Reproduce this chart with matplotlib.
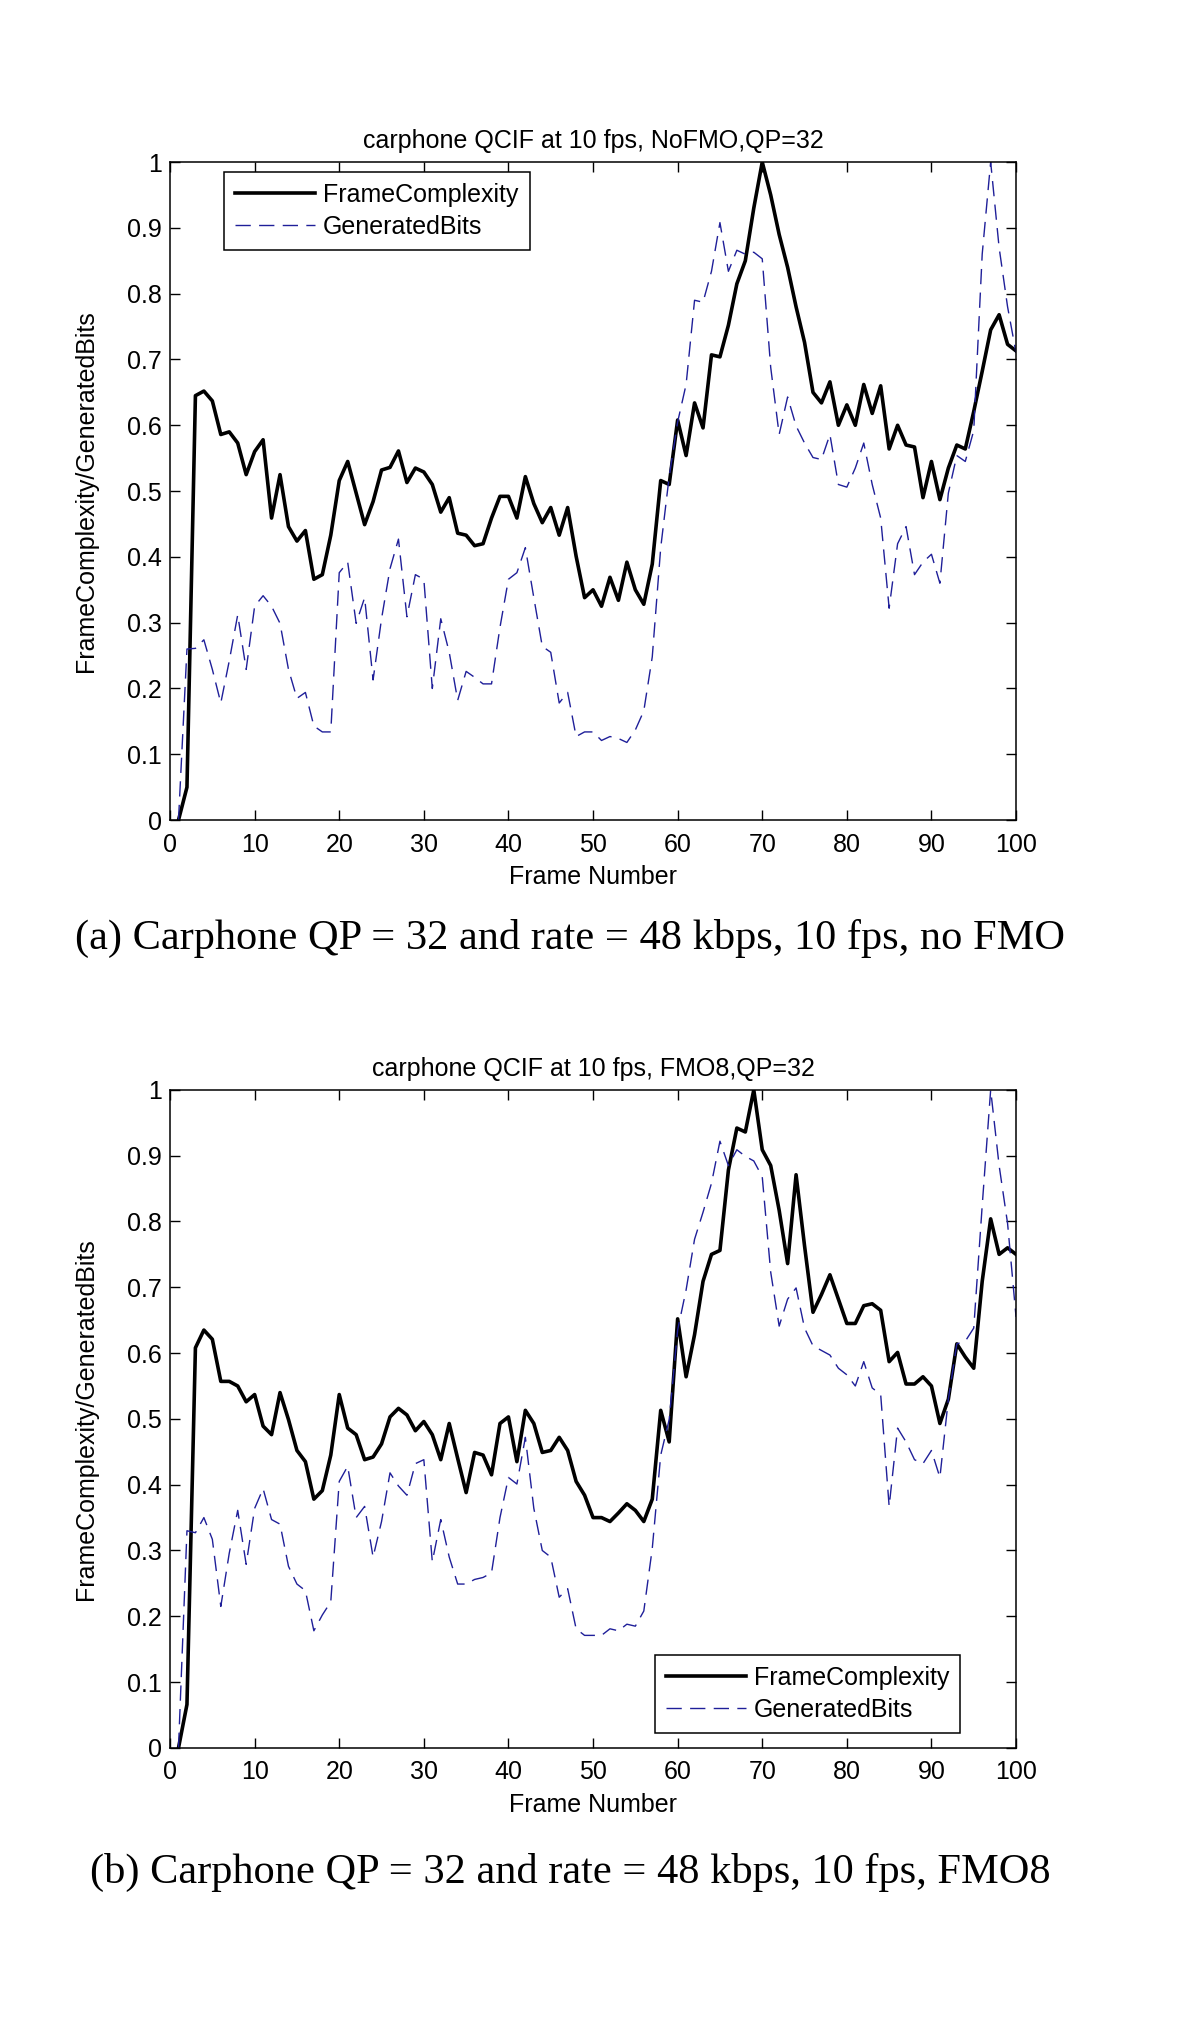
import numpy as np
import matplotlib
matplotlib.use('Agg')
import matplotlib.pyplot as plt
from matplotlib.ticker import FormatStrFormatter

# frame numbers 1..100
frames = np.arange(1, 101)

# (a) carphone, no FMO
complexity_nofmo = [
    0.0, 0.05, 0.645, 0.652, 0.637, 0.586, 0.59, 0.573, 0.525, 0.56,
    0.578, 0.459, 0.525, 0.446, 0.424, 0.44, 0.366, 0.373, 0.433, 0.516,
    0.545, 0.497, 0.449, 0.484, 0.532, 0.536, 0.561, 0.513, 0.535, 0.529,
    0.51, 0.468, 0.49, 0.436, 0.433, 0.417, 0.42, 0.459, 0.492, 0.492,
    0.459, 0.522, 0.481, 0.452, 0.475, 0.433, 0.475, 0.401, 0.338, 0.35,
    0.325, 0.369, 0.334, 0.392, 0.35, 0.328, 0.389, 0.516, 0.51, 0.608,
    0.554, 0.634, 0.596, 0.707, 0.704, 0.752, 0.815, 0.85, 0.93, 1.0,
    0.95, 0.89, 0.84, 0.78, 0.726, 0.65, 0.634, 0.666, 0.6, 0.631,
    0.6, 0.662, 0.618, 0.66, 0.564, 0.6, 0.57, 0.567, 0.49, 0.545,
    0.487, 0.535, 0.57, 0.564, 0.621, 0.682, 0.745, 0.768, 0.723, 0.713,
]
bits_nofmo = [
    0.0, 0.26, 0.261, 0.274, 0.229, 0.178, 0.242, 0.312, 0.229, 0.325,
    0.341, 0.325, 0.299, 0.229, 0.185, 0.194, 0.143, 0.134, 0.134, 0.376,
    0.392, 0.299, 0.338, 0.213, 0.306, 0.382, 0.427, 0.309, 0.373, 0.366,
    0.2, 0.306, 0.255, 0.182, 0.226, 0.217, 0.207, 0.207, 0.293, 0.366,
    0.376, 0.414, 0.338, 0.264, 0.255, 0.178, 0.194, 0.127, 0.134, 0.134,
    0.121, 0.127, 0.124, 0.118, 0.137, 0.166, 0.248, 0.414, 0.522, 0.605,
    0.662, 0.79, 0.787, 0.834, 0.908, 0.834, 0.866, 0.86, 0.863, 0.853,
    0.688, 0.586, 0.643, 0.599, 0.573, 0.551, 0.548, 0.586, 0.51, 0.506,
    0.535, 0.573, 0.51, 0.459, 0.322, 0.42, 0.446, 0.373, 0.392, 0.404,
    0.36, 0.497, 0.554, 0.545, 0.592, 0.86, 1.0, 0.87, 0.78, 0.71,
]

# (b) carphone, FMO8
complexity_fmo8 = [
    0.0, 0.066, 0.608, 0.635, 0.621, 0.557, 0.557, 0.55, 0.526, 0.537,
    0.489, 0.476, 0.54, 0.499, 0.452, 0.435, 0.378, 0.391, 0.445, 0.537,
    0.486, 0.476, 0.438, 0.442, 0.462, 0.503, 0.516, 0.506, 0.482, 0.496,
    0.476, 0.438, 0.493, 0.44, 0.388, 0.449, 0.445, 0.415, 0.493, 0.503,
    0.435, 0.513, 0.493, 0.449, 0.452, 0.472, 0.452, 0.405, 0.384, 0.35,
    0.35, 0.344, 0.357, 0.371, 0.361, 0.344, 0.378, 0.513, 0.465, 0.652,
    0.564, 0.628, 0.709, 0.75, 0.756, 0.878, 0.942, 0.936, 1.0, 0.909,
    0.885, 0.817, 0.736, 0.871, 0.763, 0.662, 0.689, 0.719, 0.682, 0.645,
    0.645, 0.672, 0.675, 0.665, 0.587, 0.601, 0.553, 0.553, 0.564, 0.55,
    0.493, 0.53, 0.614, 0.594, 0.577, 0.709, 0.804, 0.75, 0.76, 0.75,
]
bits_fmo8 = [
    0.0, 0.33, 0.327, 0.35, 0.317, 0.215, 0.296, 0.361, 0.279, 0.364,
    0.394, 0.347, 0.34, 0.276, 0.249, 0.239, 0.178, 0.202, 0.222, 0.405,
    0.428, 0.35, 0.367, 0.29, 0.344, 0.418, 0.398, 0.384, 0.432, 0.438,
    0.283, 0.347, 0.29, 0.249, 0.249, 0.256, 0.259, 0.266, 0.35, 0.411,
    0.401, 0.472, 0.364, 0.3, 0.29, 0.229, 0.242, 0.181, 0.171, 0.171,
    0.171, 0.181, 0.178, 0.188, 0.185, 0.208, 0.303, 0.445, 0.499, 0.635,
    0.696, 0.773, 0.814, 0.858, 0.922, 0.885, 0.909, 0.899, 0.892, 0.868,
    0.723, 0.641, 0.682, 0.699, 0.638, 0.611, 0.604, 0.597, 0.577, 0.567,
    0.55, 0.587, 0.547, 0.537, 0.367, 0.486, 0.465, 0.438, 0.432, 0.452,
    0.411, 0.53, 0.614, 0.618, 0.638, 0.824, 1.0, 0.885, 0.797, 0.655,
]

titles = ['carphone QCIF at 10 fps, NoFMO,QP=32', 'carphone QCIF at 10 fps, FMO8,QP=32']
captions = ['(a) Carphone QP = 32 and rate = 48 kbps, 10 fps, no FMO',
            '(b) Carphone QP = 32 and rate = 48 kbps, 10 fps, FMO8']
seriesLabels = ['FrameComplexity', 'GeneratedBits']
xticks = list(range(0, 101, 10))
yticks = [0, 0.1, 0.2, 0.3, 0.4, 0.5, 0.6, 0.7, 0.8, 0.9, 1]

plt.rcParams['font.family'] = ['Liberation Sans', 'DejaVu Sans']

fig = plt.figure(figsize=(12, 20.36), dpi=100)

ax_top = fig.add_axes([0.1417, 0.5972, 0.705, 0.3232])
ax_bot = fig.add_axes([0.1417, 0.1415, 0.705, 0.3232])

legend_spots = [('upper left', (0.064, 0.985)), ('lower right', (0.934, 0.023))]

for ax, fc, gb, title, (loc, anchor) in zip(
        [ax_top, ax_bot],
        [complexity_nofmo, complexity_fmo8],
        [bits_nofmo, bits_fmo8],
        titles, legend_spots):
    ax.plot(frames, fc, color='black', lw=2.6, label=seriesLabels[0])
    ax.plot(frames, gb, color='#1f1f99', lw=1.0, dashes=(11, 6), label=seriesLabels[1])
    ax.set_xlim(0, 100)
    ax.set_ylim(0, 1)
    ax.set_xticks(xticks)
    ax.set_yticks(yticks)
    ax.yaxis.set_major_formatter(FormatStrFormatter('%g'))
    ax.tick_params(direction='in', top=True, right=True, length=7, width=1,
                   labelsize=18, pad=6)
    ax.tick_params(axis='x', pad=9)
    for s in ax.spines.values():
        s.set_linewidth(1.1)
    ax.set_title(title, fontsize=18, pad=10)
    ax.set_xlabel('Frame Number', fontsize=18, labelpad=6)
    ax.set_ylabel('FrameComplexity/GeneratedBits', fontsize=18)
    ax.yaxis.set_label_coords(-0.085, 0.5)
    leg = ax.legend(loc=loc, bbox_to_anchor=anchor, fontsize=18, handlelength=3.2,
                    handletextpad=0.3, fancybox=False, framealpha=1,
                    borderpad=0.45, labelspacing=0.3, borderaxespad=0)
    leg.get_frame().set_edgecolor('black')
    leg.get_frame().set_linewidth(1.1)

fig.text(0.475, 1 - 938 / 2036, captions[0], ha='center', va='center',
         fontsize=30.5, family='Liberation Serif')
fig.text(0.475, 1 - 1872 / 2036, captions[1], ha='center', va='center',
         fontsize=30.5, family='Liberation Serif')

plt.savefig('out.png', dpi=100)
